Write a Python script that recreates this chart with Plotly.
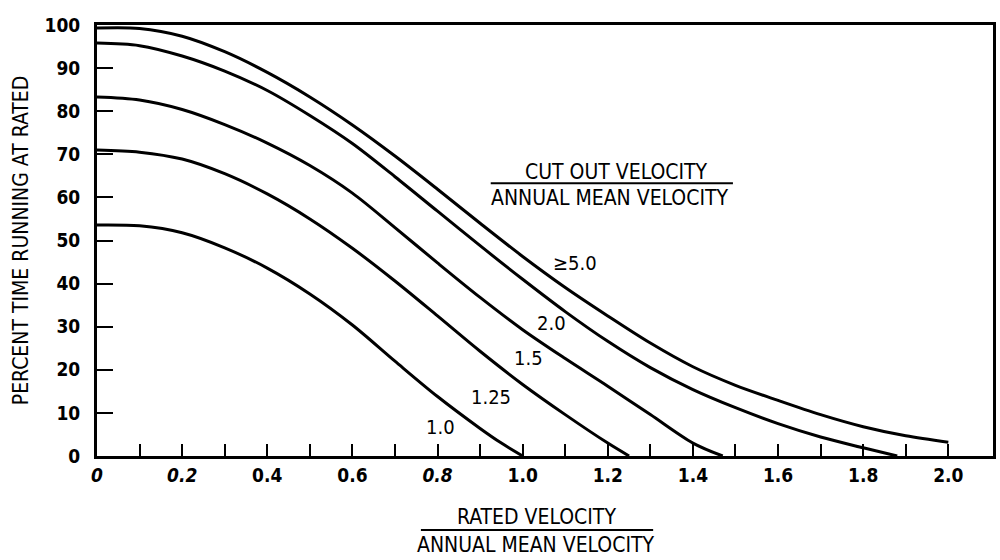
import plotly.graph_objects as go

# Rated / annual-mean velocity ratio (x) vs percent time running at rated (y),
# one curve per cut-out / annual-mean velocity ratio.
x_ge5 = [0, 0.1, 0.2, 0.3, 0.4, 0.5, 0.6, 0.7, 0.8, 0.9, 1.0, 1.1, 1.2, 1.3, 1.4, 1.5, 1.6, 1.7, 1.8, 1.9, 2.0]
y_ge5 = [99.3, 99.2, 97.4, 93.8, 89.0, 83.3, 76.8, 69.6, 61.9, 54.0, 46.3, 39.1, 32.5, 26.2, 20.7, 16.4, 12.9, 9.6, 6.8, 4.7, 3.2]

x_2p0 = [0, 0.1, 0.2, 0.3, 0.4, 0.5, 0.6, 0.7, 0.8, 0.9, 1.0, 1.1, 1.2, 1.3, 1.4, 1.5, 1.6, 1.7, 1.8, 1.88]
y_2p0 = [95.8, 95.2, 92.8, 89.3, 84.8, 79.0, 72.5, 64.8, 56.8, 48.8, 41.0, 33.5, 26.6, 20.5, 15.4, 11.2, 7.5, 4.4, 1.9, 0]

x_1p5 = [0, 0.1, 0.2, 0.3, 0.4, 0.5, 0.6, 0.7, 0.8, 0.9, 1.0, 1.1, 1.2, 1.3, 1.4, 1.47]
y_1p5 = [83.3, 82.6, 80.4, 76.9, 72.6, 67.4, 61.0, 53.0, 44.8, 36.8, 29.3, 22.6, 16.2, 9.6, 3.0, 0]

x_1p25 = [0, 0.1, 0.2, 0.3, 0.4, 0.5, 0.6, 0.7, 0.8, 0.9, 1.0, 1.1, 1.2, 1.25]
y_1p25 = [71.0, 70.5, 68.9, 65.5, 60.8, 55.0, 48.2, 40.6, 32.5, 24.3, 16.6, 9.6, 3.0, 0]

x_1p0 = [0, 0.1, 0.2, 0.3, 0.4, 0.5, 0.6, 0.7, 0.8, 0.9, 0.95, 1.0]
y_1p0 = [53.6, 53.4, 51.8, 48.3, 43.6, 37.6, 30.4, 22.0, 13.8, 6.4, 3.0, 0]

curve_names = ["\u22655.0", "2.0", "1.5", "1.25", "1.0"]
# label anchor points in data units
label_x = [1.124, 1.068, 1.014, 0.925, 0.808]
label_y = [44.8, 30.9, 22.7, 13.7, 6.8]

x_tick_vals = [round(0.1 * i, 1) for i in range(21)]
x_tick_text = ["<i>0</i>", "", "<i>0.2</i>", "", "0.4", "", "0.6", "", "<i>0.8</i>", "",
               "1.0", "", "1.2", "", "1.4", "", "1.6", "", "1.8", "", "2.0"]
y_tick_vals = [0, 10, 20, 30, 40, 50, 60, 70, 80, 90, 100]
y_tick_text = [str(v) for v in y_tick_vals]

NARROW = "Liberation Sans Narrow, DejaVu Sans Condensed, Arial Narrow, sans-serif"

fig = go.Figure()
for xs, ys, name in zip([x_ge5, x_2p0, x_1p5, x_1p25, x_1p0],
                        [y_ge5, y_2p0, y_1p5, y_1p25, y_1p0], curve_names):
    fig.add_trace(go.Scatter(x=xs, y=ys, mode="lines", name=name,
                             line=dict(color="black", width=3, shape="spline", smoothing=0.9),
                             showlegend=False, hoverinfo="skip"))

for lx, ly, name in zip(label_x, label_y, curve_names):
    fig.add_annotation(x=lx, y=ly, xref="x", yref="y", text=name, showarrow=False,
                       font=dict(family=NARROW, size=20, color="black"))

# fraction heading for the curve labels
fig.add_annotation(x=1.22, y=65.9, xref="x", yref="y", text="CUT OUT VELOCITY",
                   showarrow=False, font=dict(family=NARROW, size=21, color="black"))
fig.add_annotation(x=1.206, y=59.9, xref="x", yref="y", text="ANNUAL MEAN VELOCITY",
                   showarrow=False, font=dict(family=NARROW, size=21, color="black"))
fig.add_shape(type="line", xref="x", yref="y", x0=0.925, x1=1.494, y0=63.3, y1=63.3,
              line=dict(color="black", width=2))

# x-axis title drawn as a fraction
fig.add_annotation(x=0.4905, y=-0.1415, xref="paper", yref="paper", text="RATED VELOCITY",
                   showarrow=False, yanchor="middle",
                   font=dict(family=NARROW, size=21, color="black"))
fig.add_annotation(x=0.4905, y=-0.2065, xref="paper", yref="paper", text="ANNUAL MEAN VELOCITY",
                   showarrow=False, yanchor="middle",
                   font=dict(family=NARROW, size=21, color="black"))
fig.add_shape(type="line", xref="paper", yref="paper", x0=0.3615, x1=0.6207,
              y0=-0.1717, y1=-0.1717, line=dict(color="black", width=2))

fig.update_xaxes(range=[0, 2.105], tickmode="array", tickvals=x_tick_vals, ticktext=x_tick_text,
                 ticks="inside", ticklen=12, tickwidth=2, tickcolor="black",
                 showline=True, linewidth=3, linecolor="black", mirror=True,
                 showgrid=False, zeroline=False,
                 tickfont=dict(family=NARROW, size=19, color="black", weight="bold"))
fig.update_yaxes(range=[0, 100], tickmode="array", tickvals=y_tick_vals, ticktext=y_tick_text,
                 ticks="inside", ticklen=16, tickwidth=2, tickcolor="black",
                 showline=True, linewidth=3, linecolor="black", mirror=True,
                 showgrid=False, zeroline=False, ticklabelstandoff=10,
                 title=dict(text="PERCENT TIME RUNNING AT RATED", standoff=11,
                            font=dict(family=NARROW, size=21, color="black")),
                 tickfont=dict(family=NARROW, size=19, color="black", weight="bold"))

fig.update_layout(width=1000, height=560, margin=dict(l=97, r=4, t=25, b=104),
                  paper_bgcolor="white", plot_bgcolor="white")

fig.write_html("out.html")
